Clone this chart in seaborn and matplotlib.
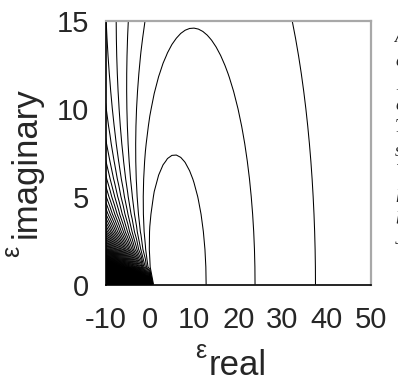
import numpy as np
import matplotlib
matplotlib.use("Agg")
import matplotlib.pyplot as plt
import seaborn as sns

# ---- data -------------------------------------------------------------
eps_real = np.arange(-10.0, 51.0, 1.0)        # grid of real permittivity
eps_imag = np.arange(0.0, 16.0, 1.0)          # grid of imaginary permittivity
eps_incident = 2.0                            # permittivity of incident medium
x_ticks = [-10, 0, 10, 20, 30, 40, 50]
x_tick_labels = ["-10", "0", "10", "20", "30", "40", "50"]
y_ticks = [0, 5, 10, 15]
y_tick_labels = ["0", "5", "10", "15"]
# contour levels, expressed through 1/(1-R)
inv_absorb_first = 1.23
inv_absorb_step = 0.205
inv_absorb_last = 300.0
caption_letters = ["A", "e", "1", "c", "T", "s", "V", "h", "b", "J"]
caption_rows_px = [38, 62, 85, 105, 128, 152, 173, 198, 220, 239]

# ---- style ------------------------------------------------------------
sns.set_theme(style="white")
plt.rcParams["font.family"] = ["Liberation Sans", "DejaVu Sans"]

# normal-incidence reflectance R of a medium with permittivity eps
X, Y = np.meshgrid(eps_real, eps_imag)
n_rel = np.sqrt((X + 1j * Y) / eps_incident)
reflect = np.abs((1 - n_rel) / (1 + n_rel)) ** 2
inv_levels = np.arange(inv_absorb_first, inv_absorb_last, inv_absorb_step)
levels = 1.0 - 1.0 / inv_levels

W, H = 398, 383
fig = plt.figure(figsize=(W / 100, H / 100), dpi=100)
ax = fig.add_axes([105.6 / W, (H - 284.5) / H, (370.8 - 105.6) / W, (284.5 - 20.7) / H])

ax.contour(X, Y, reflect, levels=levels, colors="black", linewidths=0.75)

ax.set_xlim(-10, 50)
ax.set_ylim(0, 15)
ax.set_xticks(x_ticks)
ax.set_xticklabels(x_tick_labels)
ax.set_yticks(y_ticks)
ax.set_yticklabels(y_tick_labels)
ax.tick_params(axis="x", direction="in", length=7.5, width=1, color="black",
               labelsize=21, pad=15.5)
ax.tick_params(axis="y", direction="in", length=7.5, width=1, color="black",
               labelsize=21, pad=12)
for side in ["left", "bottom"]:
    ax.spines[side].set_color("black")
    ax.spines[side].set_linewidth(1.2)
for side in ["top", "right"]:
    ax.spines[side].set_color("#a8a8a8")
    ax.spines[side].set_linewidth(1.6)

# axis labels: epsilon with large subscripts
fig.text(201 / W, 1 - 358 / H, "ε", fontsize=18, ha="center", va="baseline")
fig.text(209 / W, 1 - 375 / H, "real", fontsize=25, ha="left", va="baseline")
fig.text(19 / W, 1 - 257 / H, "ε", fontsize=18, rotation=90,
         rotation_mode="anchor", ha="left", va="baseline")
fig.text(36 / W, 1 - 238 / H, "imaginary", fontsize=25, rotation=90,
         rotation_mode="anchor", ha="left", va="baseline")

# clipped caption text of the neighbouring column (only its left edge shows)
for letter, row in zip(caption_letters, caption_rows_px):
    fig.text(395 / W, 1 - row / H, letter, fontsize=13, style="italic",
             family="Liberation Serif", ha="left", va="center")

fig.savefig("out.png", dpi=100)
